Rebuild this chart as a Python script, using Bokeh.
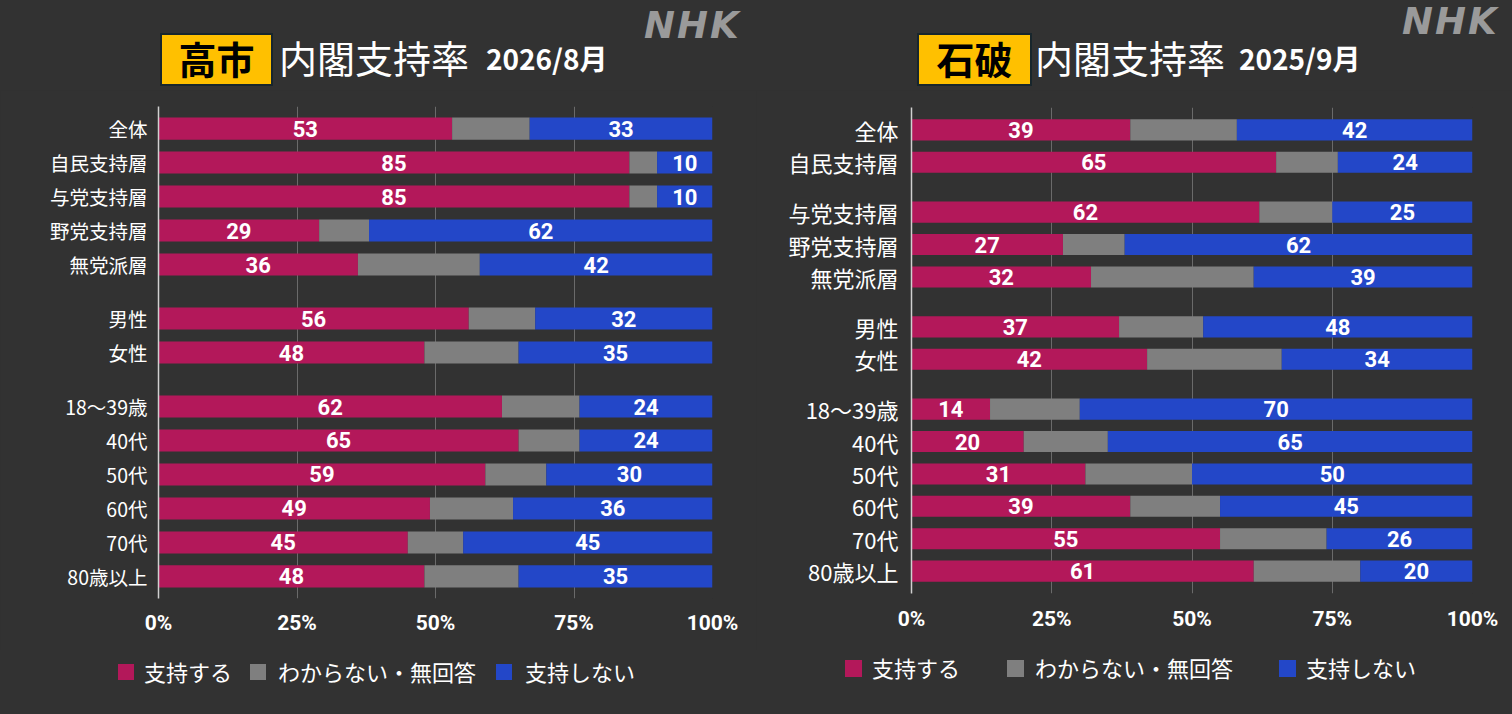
from bokeh.plotting import figure
from bokeh.models import (ColumnDataSource, FactorRange, Range1d, FixedTicker, Div,
                          GlobalInlineStyleSheet)
from bokeh.layouts import row, column
from bokeh.core.properties import value
from bokeh.embed import file_html
from bokeh.resources import INLINE

BG = "#323232"
C_SUP = "#b3185a"
C_UNK = "#7f7f7f"
C_OPP = "#2347c8"
COLORS = [C_SUP, C_UNK, C_OPP]
JP = "Noto Sans CJK JP"

series_names = ["支持する", "わからない・無回答", "支持しない"]
tick_values = [0, 25, 50, 75, 100]
tick_labels = ["0%", "25%", "50%", "75%", "100%"]

# ---- left panel: 高市内閣 2026/8月
left_leader = "高市"
left_date = "2026/8月"
left_categories = ["全体", "自民支持層", "与党支持層", "野党支持層", "無党派層",
                   "男性", "女性",
                   "18〜39歳", "40代", "50代", "60代", "70代", "80歳以上"]
left_groups = [1, 1, 1, 1, 1, 2, 2, 3, 3, 3, 3, 3, 3]
left_support = [53, 85, 85, 29, 36, 56, 48, 62, 65, 59, 49, 45, 48]
left_unknown = [14, 5, 5, 9, 22, 12, 17, 14, 11, 11, 15, 10, 17]
left_oppose = [33, 10, 10, 62, 42, 32, 35, 24, 24, 30, 36, 45, 35]

# ---- right panel: 石破内閣 2025/9月
right_leader = "石破"
right_date = "2025/9月"
right_categories = ["全体", "自民支持層",
                    "与党支持層", "野党支持層", "無党派層",
                    "男性", "女性",
                    "18〜39歳", "40代", "50代", "60代", "70代", "80歳以上"]
right_groups = [1, 1, 2, 2, 2, 3, 3, 4, 4, 4, 4, 4, 4]
right_support = [39, 65, 62, 27, 32, 37, 42, 14, 20, 31, 39, 55, 61]
right_unknown = [19, 11, 13, 11, 29, 15, 24, 16, 15, 19, 16, 19, 19]
right_oppose = [42, 24, 25, 62, 39, 48, 34, 70, 65, 50, 45, 26, 20]

PW = 756            # panel width
HH = 90             # header height
LH = 64             # legend strip height
CH = 714 - HH - LH  # chart height


def make_header(leader, date, lay):
    html = f"""
<div style="position:relative;width:{PW}px;height:{HH}px;background:{BG};overflow:hidden;">
  <div style="position:absolute;left:{lay['bx']}px;top:33px;width:{lay['bw']}px;height:53px;
       box-sizing:border-box;background:#ffc000;border:2px solid #18262c;color:#000;
       font-family:'{JP}';font-weight:bold;font-size:38px;line-height:45px;text-align:center;">{leader}</div>
  <div style="position:absolute;left:{lay['tx']}px;top:38px;color:#fff;white-space:nowrap;
       font-family:'{JP}';font-size:38px;line-height:38px;">内閣支持率</div>
  <div style="position:absolute;left:{lay['dx']}px;top:44px;color:#fff;white-space:nowrap;
       font-family:'{JP}';font-weight:bold;font-size:28px;line-height:28px;">{date}</div>
  <div style="position:absolute;left:{lay['nx']}px;top:{lay['ny']}px;color:#9a9a9a;white-space:nowrap;
       font-family:'DejaVu Sans';font-weight:bold;font-style:italic;font-size:37px;line-height:36px;
       letter-spacing:2px;">NHK</div>
</div>"""
    return Div(text=html, width=PW, height=HH, margin=0,
               styles={"background-color": BG})


def make_legend(lay):
    parts = []
    for name, col, gx, tx in zip(series_names, COLORS, lay["gx"], lay["tx"]):
        parts.append(
            f'<div style="position:absolute;left:{gx}px;top:{lay["gy"]}px;width:{lay["gs"]}px;'
            f'height:{lay["gs"]}px;background:{col};"></div>')
        parts.append(
            f'<div style="position:absolute;left:{tx}px;top:{lay["ty"]}px;color:#fff;white-space:nowrap;'
            f'font-family:\'{JP}\';font-size:22px;line-height:22px;">{name}</div>')
    html = (f'<div style="position:relative;width:{PW}px;height:{LH}px;background:{BG};overflow:hidden;">'
            + "".join(parts) + "</div>")
    return Div(text=html, width=PW, height=LH, margin=0, styles={"background-color": BG})


def make_chart(cats, grps, sup, unk, opp, lay):
    factors = [(" " * g, c) for g, c in zip(grps, cats)]
    src = ColumnDataSource(dict(y=factors, sup=sup, unk=unk, opp=opp))
    yr = FactorRange(factors=factors[::-1], factor_padding=0,
                     group_padding=lay["gp"], range_padding=lay["rp"])
    p = figure(width=PW, height=CH, x_range=Range1d(0, 100), y_range=yr,
               output_backend="svg", toolbar_location=None, title=None,
               min_border_left=lay["bl"], min_border_right=lay["br"],
               min_border_top=lay["bt"], min_border_bottom=lay["bb"], margin=0)
    p.background_fill_color = BG
    p.border_fill_color = BG
    p.outline_line_color = None

    p.hbar_stack(["sup", "unk", "opp"], y="y", height=0.65,
                 fill_color=COLORS, line_color=None, source=src)

    lx, ly, lt = [], [], []
    for f, s, u, o in zip(factors, sup, unk, opp):
        lx.append(s / 2); ly.append(f); lt.append(str(s))
        lx.append(s + u + o / 2); ly.append(f); lt.append(str(o))
    lsrc = ColumnDataSource(dict(x=lx, y=ly, t=lt))
    p.text(x="x", y="y", text="t", source=lsrc, text_align="center",
           text_baseline="middle", text_color="white",
           text_font=value("Roboto"), text_font_style="bold",
           text_font_size=lay["nfs"])

    # axes
    p.xaxis.ticker = FixedTicker(ticks=tick_values)
    p.xaxis.major_label_overrides = {v: t for v, t in zip(tick_values, tick_labels)}
    p.xaxis.axis_line_color = None
    p.xaxis.major_tick_line_color = None
    p.xaxis.minor_tick_line_color = None
    p.xaxis.major_label_standoff = lay["xs"]
    p.xaxis.major_label_text_color = "white"
    p.xaxis.major_label_text_font = "Roboto"
    p.xaxis.major_label_text_font_style = "bold"
    p.xaxis.major_label_text_font_size = "21px"

    p.yaxis.axis_line_color = "#d0d0d0"
    p.yaxis.axis_line_width = 1.5
    p.yaxis.major_tick_line_color = None
    p.yaxis.minor_tick_line_color = None
    p.yaxis.major_label_standoff = lay["ys"]
    p.yaxis.major_label_text_color = "white"
    p.yaxis.major_label_text_font = JP
    p.yaxis.major_label_text_font_size = lay["yfs"]
    p.yaxis.group_text_color = BG
    p.yaxis.group_text_font_size = "4px"
    p.yaxis.separator_line_color = None

    p.xgrid.ticker = FixedTicker(ticks=tick_values)
    p.xgrid.grid_line_color = "#6a6a6a"
    p.ygrid.grid_line_color = None
    return p


left_head = dict(bx=160, bw=113, tx=279, dx=486, nx=644, ny=8)
right_head = dict(bx=161, bw=115, tx=279, dx=483, nx=646, ny=4)

left_leg = dict(gx=[118, 250, 496], tx=[144, 278, 525], gy=14, gs=16, ty=10)
right_leg = dict(gx=[89, 251, 523], tx=[116, 279, 550], gy=10, gs=17, ty=6)

left_layout = dict(gp=0.59, rp=0.0212, bl=158, br=PW - 712,
                   bt=106 - HH, bb=HH + CH - 598,
                   nfs="22px", xs=6, ys=5, yfs="19.5px")
right_layout = dict(gp=0.54, rp=0.026, bl=911 - PW, br=2 * PW - 1472,
                    bt=107 - HH, bb=HH + CH - 593,
                    nfs="22px", xs=7, ys=7, yfs="22px")

left_panel = column(make_header(left_leader, left_date, left_head),
                    make_chart(left_categories, left_groups, left_support,
                               left_unknown, left_oppose, left_layout),
                    make_legend(left_leg), spacing=0)
right_panel = column(make_header(right_leader, right_date, right_head),
                     make_chart(right_categories, right_groups, right_support,
                                right_unknown, right_oppose, right_layout),
                     make_legend(right_leg), spacing=0)

layout = row(left_panel, right_panel, spacing=0,
             stylesheets=[GlobalInlineStyleSheet(css="html, body { background-color: #323232; margin: 0; }")])

open("out.html", "w").write(file_html(layout, INLINE))
